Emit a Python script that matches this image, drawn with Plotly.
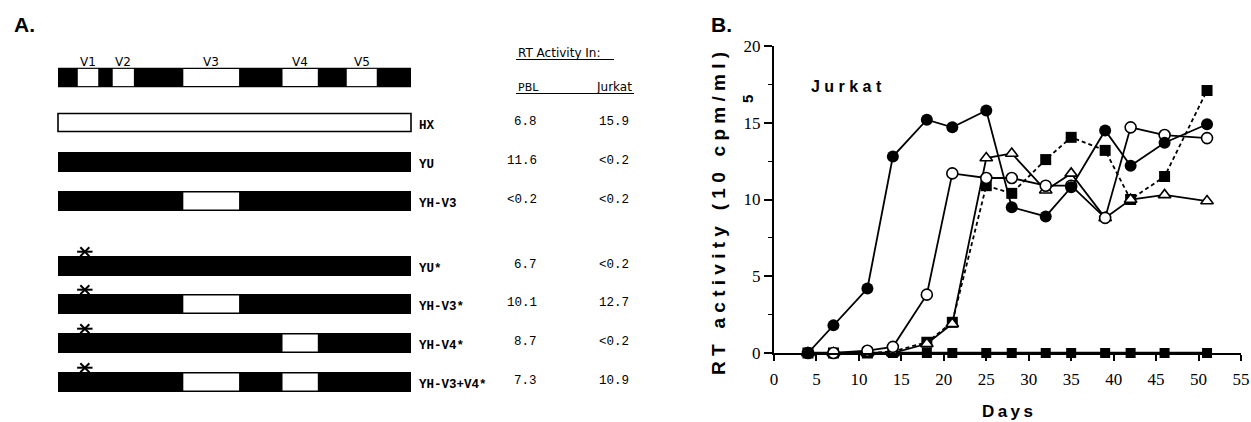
import plotly.graph_objects as go

# ---------------- Panel B data ----------------
days = [4, 7, 11, 14, 18, 21, 25, 28, 32, 35, 39, 42, 46, 51]
filled_circle = [0.0, 1.8, 4.2, 12.8, 15.2, 14.7, 15.8, 9.5, 8.9, 10.8, 14.5, 12.2, 13.7, 14.9]
open_circle = [0.0, 0.0, 0.15, 0.4, 3.8, 11.7, 11.4, 11.4, 10.9, 10.9, 8.8, 14.7, 14.2, 14.0]
open_triangle = [0.0, 0.0, 0.0, 0.0, 0.6, 1.9, 12.7, 13.0, 10.6, 11.7, 8.8, 10.0, 10.3, 9.9]
filled_square = [0.0, 0.0, 0.0, 0.1, 0.7, 2.0, 10.9, 10.4, 12.6, 14.05, 13.2, 10.0, 11.5, 17.1]
zero_square = [0, 0, 0, 0, 0, 0, 0, 0, 0, 0, 0, 0, 0, 0]
x_ticks = [0, 5, 10, 15, 20, 25, 30, 35, 40, 45, 50, 55]
y_ticks = [0, 5, 10, 15, 20]

# ---------------- Panel A data ----------------
v_names = ["V1", "V2", "V3", "V4", "V5"]
v_start = [5.6, 15.5, 35.5, 63.6, 81.8]     # position along env (0-100)
v_end = [11.4, 21.5, 51.3, 73.6, 90.3]
constructs = ["HX", "YU", "YH-V3", "YU*", "YH-V3*", "YH-V4*", "YH-V3+V4*"]
backbone = ["HX", "YU", "YU", "YU", "YU", "YU", "YU"]
hx_inserts = [[], [], ["V3"], [], ["V3"], ["V4"], ["V3", "V4"]]
mutated = [False, False, False, True, True, True, True]
mutation_pos = 7.6
pbl = ["6.8", "11.6", "<0.2", "6.7", "10.1", "8.7", "7.3"]
jurkat = ["15.9", "<0.2", "<0.2", "<0.2", "12.7", "<0.2", "10.9"]

# ---------------- layout constants (pixels) ----------------
W, H = 1251, 422
MAP_Y = 77.5
ROW_Y = [122.5, 162, 201, 266, 304, 343, 382]
BAR_LEFT_PX, PX_PER_UNIT = 58, 3.53
LEFT_DOMAIN = 0.54
x2_range = [-BAR_LEFT_PX / PX_PER_UNIT, (LEFT_DOMAIN * W - BAR_LEFT_PX) / PX_PER_UNIT]


def g(px):  # pixel column -> env coordinate (layout helper for text)
    return (px - BAR_LEFT_PX) / PX_PER_UNIT


def spaced(s, sep=" "):
    return sep.join(list(s))


BLACK = "#000000"
fig = go.Figure()

# ---------------- Panel A drawing ----------------
shapes = []
half = 9.8
shapes.append(dict(type="rect", xref="x2", yref="y2", x0=0, x1=100, y0=MAP_Y - half, y1=MAP_Y + half,
                   fillcolor=BLACK, line=dict(width=0), layer="below"))
for s, e in zip(v_start, v_end):
    shapes.append(dict(type="rect", xref="x2", yref="y2", x0=s, x1=e, y0=MAP_Y - half + 1.2,
                       y1=MAP_Y + half - 1.2, fillcolor="white", line=dict(width=0), layer="below"))
for name, yc, bb, ins in zip(constructs, ROW_Y, backbone, hx_inserts):
    if bb == "HX":
        shapes.append(dict(type="rect", xref="x2", yref="y2", x0=0, x1=100, y0=yc - 9, y1=yc + 9,
                           fillcolor="white", line=dict(color=BLACK, width=1.6), layer="below"))
    else:
        shapes.append(dict(type="rect", xref="x2", yref="y2", x0=0, x1=100, y0=yc - 10, y1=yc + 10,
                           fillcolor=BLACK, line=dict(width=0), layer="below"))
        for v in ins:
            i = v_names.index(v)
            shapes.append(dict(type="rect", xref="x2", yref="y2", x0=v_start[i], x1=v_end[i],
                               y0=yc - 8.6, y1=yc + 8.6, fillcolor="white", line=dict(width=0),
                               layer="below"))

ast_y = [yc - 14.3 for yc, m in zip(ROW_Y, mutated) if m]
ast_x = [mutation_pos for m in mutated if m]
fig.add_trace(go.Scatter(x=ast_x, y=ast_y, xaxis="x2", yaxis="y2", mode="markers", cliponaxis=False,
                         marker=dict(symbol="x-thin-open", size=9, color=BLACK,
                                     line=dict(width=2, color=BLACK)),
                         hoverinfo="skip", showlegend=False))
fig.add_trace(go.Scatter(x=ast_x, y=ast_y, xaxis="x2", yaxis="y2", mode="markers", cliponaxis=False,
                         marker=dict(symbol="line-ew-open", size=11, color=BLACK,
                                     line=dict(width=2, color=BLACK)),
                         hoverinfo="skip", showlegend=False))

ann = []
sans = "DejaVu Sans"
mono = "Liberation Mono"
for name, s, e in zip(v_names, v_start, v_end):
    ann.append(dict(x=(s + e) / 2, y=62, xref="x2", yref="y2", text=name, showarrow=False,
                    font=dict(family=sans, size=12, color=BLACK), xanchor="center", yanchor="middle"))
for name, yc, p, j in zip(constructs, ROW_Y, pbl, jurkat):
    ann.append(dict(x=g(417), y=yc + 3, xref="x2", yref="y2", text="<b>%s</b>" % name, showarrow=False,
                    font=dict(family=mono, size=12.5, color=BLACK), xanchor="left", yanchor="middle"))
    ann.append(dict(x=g(539), y=yc - 1, xref="x2", yref="y2", text=p, showarrow=False,
                    font=dict(family=mono, size=12.5, color=BLACK), xanchor="right", yanchor="middle"))
    ann.append(dict(x=g(631), y=yc - 1, xref="x2", yref="y2", text=j, showarrow=False,
                    font=dict(family=mono, size=12.5, color=BLACK), xanchor="right", yanchor="middle"))
ann.append(dict(x=g(516), y=53, xref="x2", yref="y2", text="RT Activity In:", showarrow=False,
                font=dict(family=sans, size=12, color=BLACK), xanchor="left", yanchor="middle"))
ann.append(dict(x=g(516), y=87, xref="x2", yref="y2", text="PBL", showarrow=False,
                font=dict(family=sans, size=11, color=BLACK), xanchor="left", yanchor="middle"))
ann.append(dict(x=g(634), y=87, xref="x2", yref="y2", text="Jurkat", showarrow=False,
                font=dict(family=sans, size=12, color=BLACK), xanchor="right", yanchor="middle"))
shapes.append(dict(type="line", xref="x2", yref="y2", x0=g(516), x1=g(614), y0=59.5, y1=59.5,
                   line=dict(color=BLACK, width=1)))
shapes.append(dict(type="line", xref="x2", yref="y2", x0=g(516), x1=g(634), y0=93.5, y1=93.5,
                   line=dict(color=BLACK, width=1)))

ann.append(dict(x=25 / W, y=1 - 24 / H, xref="paper", yref="paper", text="<b>A.</b>", showarrow=False,
                font=dict(family="Liberation Sans", size=21, color=BLACK), xanchor="center", yanchor="middle"))
ann.append(dict(x=721 / W, y=1 - 24 / H, xref="paper", yref="paper", text="<b>B.</b>", showarrow=False,
                font=dict(family="Liberation Sans", size=21, color=BLACK), xanchor="center", yanchor="middle"))

# ---------------- Panel B drawing ----------------
line_w = 1.8
fig.add_trace(go.Scatter(x=days, y=zero_square, mode="lines+markers", cliponaxis=False, showlegend=False,
                         line=dict(color=BLACK, width=2.5),
                         marker=dict(symbol="square", size=10, color=BLACK)))
fig.add_trace(go.Scatter(x=days, y=filled_square, mode="lines+markers", cliponaxis=False, showlegend=False,
                         line=dict(color=BLACK, width=line_w, dash="4px,3px"),
                         marker=dict(symbol="square", size=11, color=BLACK)))
fig.add_trace(go.Scatter(x=days, y=open_triangle, mode="lines+markers", cliponaxis=False, showlegend=False,
                         line=dict(color=BLACK, width=line_w),
                         marker=dict(symbol="triangle-up", size=11, color="white",
                                     line=dict(color=BLACK, width=1.6))))
fig.add_trace(go.Scatter(x=days, y=open_circle, mode="lines+markers", cliponaxis=False, showlegend=False,
                         line=dict(color=BLACK, width=line_w),
                         marker=dict(symbol="circle", size=11, color="white",
                                     line=dict(color=BLACK, width=1.6))))
fig.add_trace(go.Scatter(x=days, y=filled_circle, mode="lines+markers", cliponaxis=False, showlegend=False,
                         line=dict(color=BLACK, width=line_w),
                         marker=dict(symbol="circle", size=12, color=BLACK)))

X0_PX, X1_PX = 774, 1241
Y0_PX, Y1_PX = 353, 46
tickfont = dict(family="Liberation Serif", size=17, color=BLACK)

ann.append(dict(x=(X0_PX + X1_PX) / 2 / W, y=1 - 411 / H, xref="paper", yref="paper",
                text="<b>%s</b>" % spaced("Days", "\u2009"), showarrow=False,
                font=dict(family="Liberation Sans", size=17, color=BLACK), xanchor="center", yanchor="middle"))
ytitle = "   ".join(spaced(w) for w in ["RT", "activity", "(10", "cpm/ml)"])
ann.append(dict(x=718 / W, y=1 - 213 / H, xref="paper", yref="paper", text="<b>%s</b>" % ytitle,
                showarrow=False, textangle=-90,
                font=dict(family="Liberation Sans", size=19, color=BLACK), xanchor="center", yanchor="middle"))
ann.append(dict(x=747 / W, y=1 - 99 / H, xref="paper", yref="paper", text="<b>5</b>",
                showarrow=False, textangle=-90,
                font=dict(family="Liberation Sans", size=15, color=BLACK), xanchor="center", yanchor="middle"))
ann.append(dict(x=846 / W, y=1 - 86 / H, xref="paper", yref="paper", text="<b>%s</b>" % spaced("Jurkat"),
                showarrow=False, font=dict(family="Liberation Sans", size=16, color=BLACK),
                xanchor="center", yanchor="middle"))

fig.update_layout(
    width=W, height=H, margin=dict(l=0, r=0, t=0, b=0, pad=0, autoexpand=False),
    paper_bgcolor="white", plot_bgcolor="white", showlegend=False,
    xaxis=dict(domain=[X0_PX / W, X1_PX / W], range=[0, 55], tickvals=x_ticks, automargin=False,
               ticktext=[str(t) for t in x_ticks], ticks="outside", ticklen=6, tickwidth=1.5,
               tickcolor=BLACK, showline=True, linecolor=BLACK, linewidth=2, showgrid=False,
               zeroline=False, tickfont=tickfont, ticklabelstandoff=4),
    yaxis=dict(domain=[1 - Y0_PX / H, 1 - Y1_PX / H], range=[0, 20], tickvals=y_ticks, automargin=False,
               ticktext=[str(t) for t in y_ticks], ticks="outside", ticklen=8, tickwidth=1.5,
               tickcolor=BLACK, showline=True, linecolor=BLACK, linewidth=2, showgrid=False,
               zeroline=False, tickfont=tickfont,
               minor=dict(dtick=2.5, ticks="outside", ticklen=4, tickwidth=1.2, tickcolor=BLACK,
                          showgrid=False)),
    xaxis2=dict(domain=[0, LEFT_DOMAIN], range=x2_range, visible=False, fixedrange=True, automargin=False),
    yaxis2=dict(domain=[0, 1], range=[H, 0], visible=False, fixedrange=True, anchor="x2", automargin=False),
    shapes=shapes, annotations=ann,
)

fig.write_html(
    "out.html",
    config={"responsive": False, "displayModeBar": False},
    post_script="document.body.style.margin='0';document.body.style.overflow='hidden';"
                "document.documentElement.style.overflow='hidden';",
)
